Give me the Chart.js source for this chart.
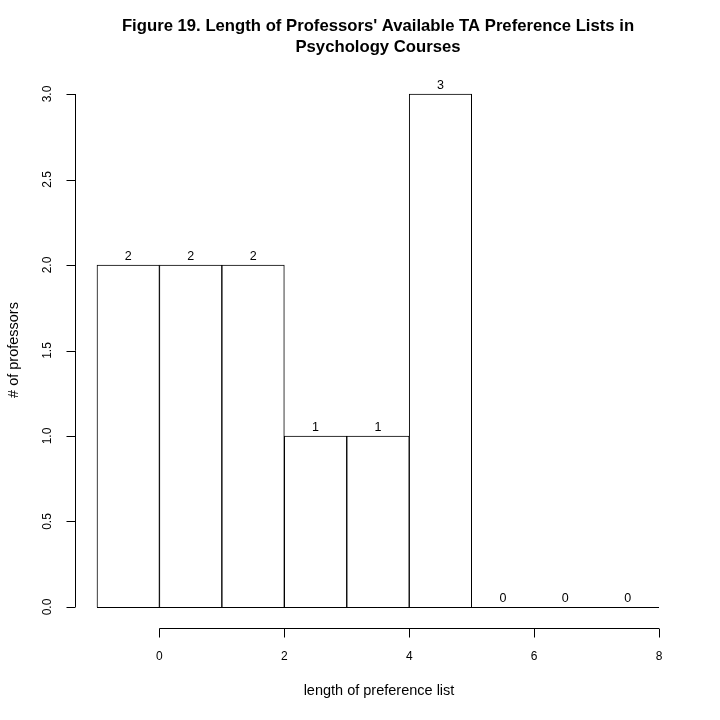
<!DOCTYPE html>
<html><head><meta charset="utf-8">
<script src="https://cdn.jsdelivr.net/npm/chart.js@4"></script>
<style>html,body{margin:0;padding:0;background:#fff}#wrap{width:720px;height:720px}</style>
</head><body><div id="wrap"><canvas id="c" width="720" height="720"></canvas></div>
<script>
const binCenters = [-0.5, 0.5, 1.5, 2.5, 3.5, 4.5, 5.5, 6.5, 7.5];
const counts = [2, 2, 2, 1, 1, 3, 0, 0, 0];
const xTicks = [0, 2, 4, 6, 8];
const yTicks = [0, 0.5, 1, 1.5, 2, 2.5, 3];
const yTickLabels = ['0.0', '0.5', '1.0', '1.5', '2.0', '2.5', '3.0'];
const titleLines = ["Figure 19. Length of Professors' Available TA Preference Lists in", "Psychology Courses"];
const xTitle = 'length of preference list';
const yTitle = '# of professors';

const FONT = '"Liberation Sans", Arial, sans-serif';

const rPlot = {
  id: 'rPlot',
  afterDatasetsDraw(chart) {
    const ctx = chart.ctx, xs = chart.scales.x, ys = chart.scales.y, a = chart.chartArea;
    ctx.save();
    ctx.strokeStyle = '#000'; ctx.fillStyle = '#000'; ctx.lineWidth = 1;
    // y axis
    const yx = Math.round(a.left) + 0.5;
    ctx.beginPath();
    ctx.moveTo(yx, ys.getPixelForValue(yTicks[0]));
    ctx.lineTo(yx, ys.getPixelForValue(yTicks[yTicks.length - 1]));
    yTicks.forEach(v => { const p = Math.round(ys.getPixelForValue(v)) + 0.5; ctx.moveTo(yx, p); ctx.lineTo(yx - 9, p); });
    ctx.stroke();
    ctx.font = '12px ' + FONT;
    ctx.textAlign = 'center'; ctx.textBaseline = 'middle';
    yTicks.forEach((v, i) => {
      ctx.save(); ctx.translate(48, ys.getPixelForValue(v)); ctx.rotate(-Math.PI / 2);
      ctx.fillText(yTickLabels[i], 0, 0); ctx.restore();
    });
    // x axis
    const xy = Math.round(a.bottom) + 0.5;
    ctx.beginPath();
    ctx.moveTo(xs.getPixelForValue(xTicks[0]), xy);
    ctx.lineTo(xs.getPixelForValue(xTicks[xTicks.length - 1]), xy);
    xTicks.forEach(v => { const p = Math.round(xs.getPixelForValue(v)) + 0.5; ctx.moveTo(p, xy); ctx.lineTo(p, xy + 9); });
    ctx.stroke();
    xTicks.forEach(v => ctx.fillText(String(v), xs.getPixelForValue(v), 657));
    // baseline of bars (zero line across all bins)
    ctx.beginPath();
    const z = Math.round(ys.getPixelForValue(0)) + 0.5;
    ctx.moveTo(xs.getPixelForValue(binCenters[0] - 0.5), z);
    ctx.lineTo(xs.getPixelForValue(binCenters[binCenters.length - 1] + 0.5), z);
    ctx.stroke();
    // count labels
    ctx.font = '12.5px ' + FONT;
    ctx.textBaseline = 'alphabetic';
    counts.forEach((c, i) => ctx.fillText(String(c), xs.getPixelForValue(binCenters[i]), ys.getPixelForValue(c) - 5));
    // titles
    ctx.font = 'bold 16.7px ' + FONT;
    ctx.textBaseline = 'middle';
    ctx.fillText(titleLines[0], 378, 26);
    ctx.fillText(titleLines[1], 378, 47);
    ctx.font = '14.5px ' + FONT;
    ctx.fillText(xTitle, 379, 691);
    ctx.save(); ctx.translate(14, 350); ctx.rotate(-Math.PI / 2); ctx.fillText(yTitle, 0, 0); ctx.restore();
    ctx.restore();
  }
};

new Chart(document.getElementById('c'), {
  type: 'bar',
  data: {
    datasets: [{
      data: binCenters.map((x, i) => ({ x: x, y: counts[i] })),
      backgroundColor: '#ffffff',
      borderColor: '#000000',
      borderWidth: 1,
      barPercentage: 1,
      categoryPercentage: 1,
      borderSkipped: 'bottom'
    }]
  },
  options: {
    responsive: false,
    animation: false,
    devicePixelRatio: 1,
    layout: { padding: { left: 74.5, right: 38.5, top: 73.5, bottom: 92.5 } },
    scales: {
      x: { type: 'linear', min: -1.36, max: 8.36, display: false, offset: false },
      y: { type: 'linear', min: -0.12, max: 3.12, display: false }
    },
    plugins: { legend: { display: false }, tooltip: { enabled: false }, title: { display: false } }
  },
  plugins: [rPlot]
});
</script>
</body></html>
